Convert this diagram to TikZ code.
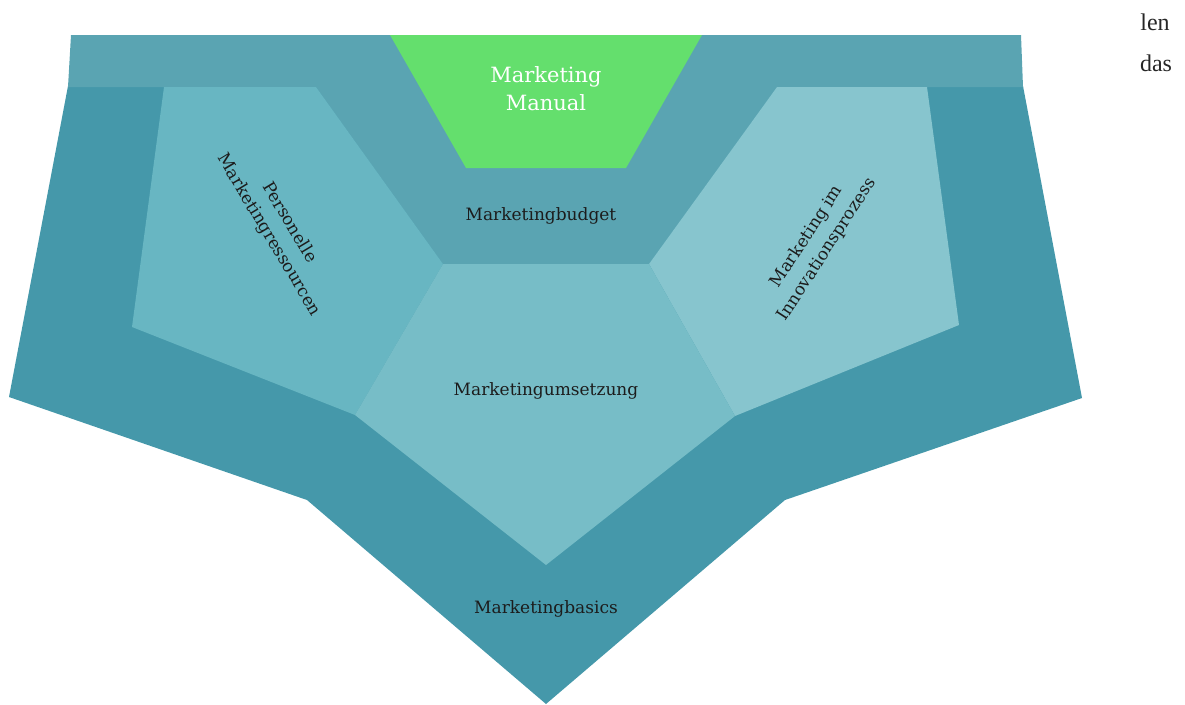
\documentclass[tikz,border=0pt]{standalone}
\usepackage{fontspec}
\setmainfont{DejaVu Serif}
\newfontfamily\pagefont{Liberation Serif}
\definecolor{basics}{HTML}{4598AA}
\definecolor{budget}{HTML}{5AA4B2}
\definecolor{personal}{HTML}{68B6C2}
\definecolor{umsetzung}{HTML}{77BDC7}
\definecolor{innovation}{HTML}{87C5CE}
\definecolor{manual}{HTML}{64DF6D}
\definecolor{labeltext}{HTML}{1C1C1C}
\tikzset{
  lbl/.style={text=labeltext, font=\fontsize{17}{24}\selectfont, align=center, inner sep=0pt},
  biglbl/.style={text=white, font=\fontsize{21}{28}\selectfont, align=center, inner sep=0pt},
  pagetext/.style={text=black!85, font=\pagefont\fontsize{24}{28}\selectfont, inner sep=0pt}
}
\begin{document}
\begin{tikzpicture}[x=1pt, y=-1pt]
\useasboundingbox (0,0) rectangle (1185,704);

% outer layer: Marketingbasics
\fill[basics] (68,86) -- (1023,86) -- (1082,398) -- (785,500) -- (546,704)
  -- (307,500) -- (9,397) -- cycle;
% budget layer: top band and the wedge below the manual
\fill[budget] (71,35) -- (1021,35) -- (1023,87) -- (777,87) -- (649,264)
  -- (443,264) -- (316,87) -- (68,87) -- cycle;
% personnel resources
\fill[personal] (164,87) -- (316,87) -- (443,264) -- (355,415) -- (132,327) -- cycle;
% innovation process
\fill[innovation] (777,87) -- (927,87) -- (959,325) -- (735,416) -- (649,264) -- cycle;
% implementation (centre pentagon)
\fill[umsetzung] (443,264) -- (649,264) -- (735,416) -- (546,565) -- (355,415) -- cycle;
% manual (top trapezoid)
\fill[manual] (390,35) -- (702,35) -- (626,168) -- (466,168) -- cycle;

% labels
\node[biglbl] (manualtxt) at (546,89) {Marketing\\Manual};
\node[lbl] (budgettxt) at (541,216) {Marketingbudget};
\node[lbl] (umsetztxt) at (546,391) {Marketingumsetzung};
\node[lbl] (basicstxt) at (546,609) {Marketingbasics};
\node[lbl, rotate=-59] (personaltxt) at (279,229) {Personelle\\Marketingressourcen};
\node[lbl, rotate=57] (innovtxt) at (817,243) {Marketing im\\Innovationsprozess};

% running text of the neighbouring page column
\node[pagetext, anchor=base] (len) at (1155,30) {len};
\node[pagetext, anchor=base] (das) at (1156,71) {das};
\end{tikzpicture}
\end{document}
